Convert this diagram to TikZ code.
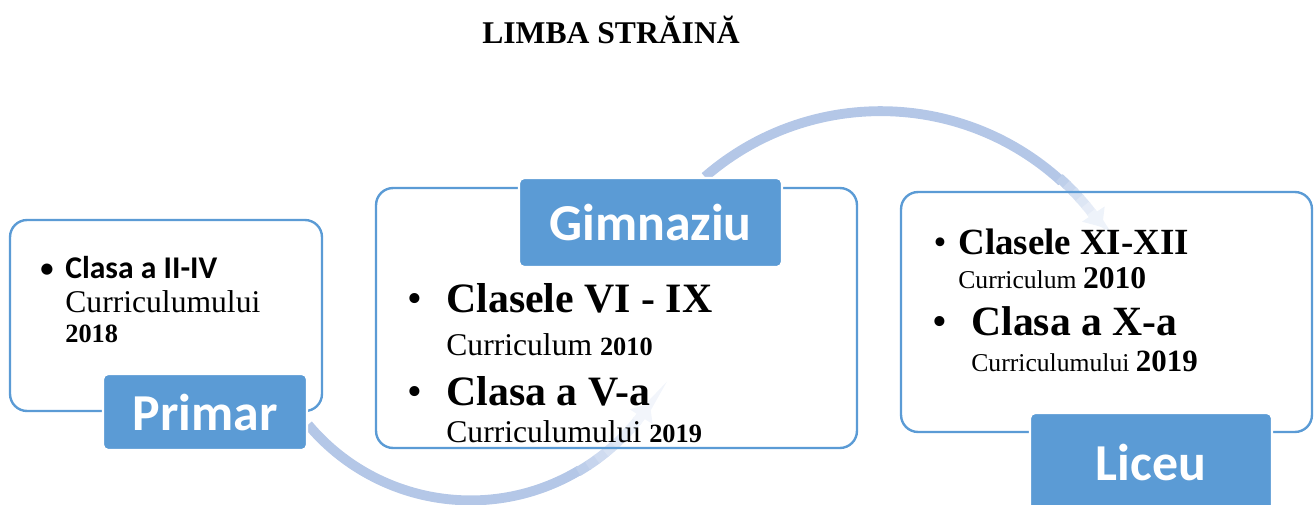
\documentclass[tikz,border=0pt]{standalone}
\usepackage{fontspec}
\setmainfont{Liberation Serif}
\newfontfamily\calibri{Carlito}
\usetikzlibrary{arrows.meta,calc}
\definecolor{boxblue}{HTML}{5B9BD5}
\definecolor{flowblue}{HTML}{B4C7E7}
\newcommand{\fs}[1]{\fontsize{#1}{#1}\selectfont}
\pgfdeclarelayer{background}
\pgfsetlayers{background,main}

\tikzset{
  stagebox/.style={draw=boxblue, line width=1.35pt, rounded corners=0.34cm, inner sep=0pt},
  stagelabel/.style={fill=boxblue, draw=white, line width=1.3pt, rounded corners=0.1cm,
    text=white, font=\calibri\bfseries\fs{29.5}, inner sep=0pt},
  flowline/.style={draw=flowblue, line width=5.6pt},
  flowtip/.style={-{Triangle[width=15pt,length=9pt]}},
  bodytext/.style={anchor=base west, inner sep=0pt},
  bullet/.style={anchor=base, inner sep=0pt}
}

\begin{document}
\begin{tikzpicture}[x=0.02cm, y=0.02cm]
  \useasboundingbox (0,0) rectangle (1314,-504);

  \node[font=\bfseries\fs{18}, anchor=base, inner sep=0pt] (title) at (611,-43) {LIMBA STRĂINĂ};

  % stage frames
  \node[stagebox, minimum width=6.24cm, minimum height=3.82cm] (primarbox) at (166,-315.5) {};
  \node[stagebox, minimum width=9.62cm, minimum height=5.2cm] (gimbox) at (616.5,-318) {};
  \node[stagebox, minimum width=8.22cm, minimum height=4.8cm] (licbox) at (1106.5,-312) {};

  % labels
  \node[stagelabel, minimum width=4.08cm, minimum height=1.52cm] (primar) at (205,-412) {Primar};
  \node[stagelabel, minimum width=5.26cm, minimum height=1.78cm] (gimlabel) at (650.5,-222.5) {Gimnaziu};
  \node[stagelabel, minimum width=4.84cm, minimum height=1.96cm] (liclabel) at (1151,-462) {Liceu};

  % flow arrows, fading out at the tips
  \coordinate (primarturn) at (472,-288);
  \coordinate (gimturn) at (880,-377);
  \begin{pgfonlayer}{background}
    \draw[flowline] (primar.-7) arc[start angle=220, end angle=301, radius=212];
    \foreach \a/\p in {300/88, 303/76, 306/64, 309/52, 312/42, 315/33, 318/25}
      \draw[flowline, draw=flowblue!\p!white] ($(primarturn)+(\a:212)$) arc[start angle=\a, end angle=\a+3.4, radius=212];
    \draw[flowline, flowtip, draw=flowblue!18!white, fill=flowblue!18!white] ($(primarturn)+(321:212)$) arc[start angle=321, end angle=327, radius=212];

    \draw[flowline] (gimlabel.40) arc[start angle=131, end angle=47.5, radius=268];
    \foreach \a/\p in {48/86, 46/72, 44/58, 42/45, 40/34}
      \draw[flowline, draw=flowblue!\p!white] ($(gimturn)+(\a:268)$) arc[start angle=\a, end angle=\a-2.4, radius=268];
    \draw[flowline, flowtip, draw=flowblue!22!white, fill=flowblue!22!white] ($(gimturn)+(38:268)$) arc[start angle=38, end angle=34, radius=268];
  \end{pgfonlayer}

  % Primar
  \node[bullet, font=\calibri\fs{18}] (pbul) at (47,-278) {•};
  \node[bodytext, font=\calibri\bfseries\fs{18}] (pclass) at (65,-278) {Clasa a II-IV};
  \node[bodytext, font=\fs{18}] (pcurr) at (65,-312) {Curriculumului};
  \node[bodytext, font=\bfseries\fs{15}] (pyear) at (65,-342) {2018};

  % Gimnaziu
  \node[bullet, font=\fs{24}] (gbul1) at (415,-312) {•};
  \node[bodytext, font=\bfseries\fs{23.8}] (gclass1) at (446,-312) {Clasele VI - IX};
  \node[bodytext, font=\fs{18}] (gcurr1) at (446,-355) {Curriculum \textbf{\fs{15}2010}};
  \node[bullet, font=\fs{24}] (gbul2) at (415,-405) {•};
  \node[bodytext, font=\bfseries\fs{23.8}] (gclass2) at (446,-405) {Clasa a V-a};
  \node[bodytext, font=\fs{18}] (gcurr2) at (446,-442) {Curriculumului \textbf{\fs{15}2019}};

  % Liceu
  \node[bullet, font=\fs{21}] (lbul1) at (940,-254) {•};
  \node[bodytext, font=\bfseries\fs{21}] (lclass1) at (958,-254) {Clasele XI-XII};
  \node[bodytext, font=\fs{14.6}] (lcurr1) at (958,-288) {Curriculum \textbf{\fs{18}2010}};
  \node[bullet, font=\fs{24}] (lbul2) at (940,-335) {•};
  \node[bodytext, font=\bfseries\fs{23.7}] (lclass2) at (971,-335) {Clasa a X-a};
  \node[bodytext, font=\fs{14.6}] (lcurr2) at (971,-371) {Curriculumului \textbf{\fs{17.6}2019}};
\end{tikzpicture}
\end{document}
